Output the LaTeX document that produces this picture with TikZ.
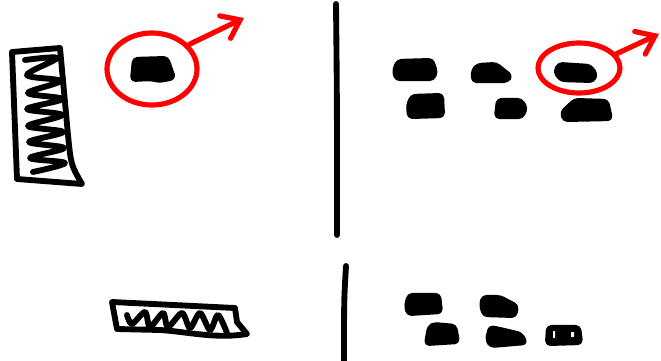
\documentclass[tikz,border=0pt]{standalone}
\usepackage{tikz}
\usetikzlibrary{arrows.meta}
\definecolor{Ink}{HTML}{000000}
\definecolor{Marker}{HTML}{FF0000}
\tikzset{
  pen/.style={draw=Ink,line width=5pt,line cap=round,line join=round},
  redpen/.style={draw=Marker,line width=4.4pt,line cap=round,line join=round},
  blob/.style={draw=Ink,fill=Ink,line width=3.5pt,rounded corners=3pt,line join=round},
  hole/.style={fill=white,rounded corners=.5pt},
  pointer/.style={redpen,-{Straight Barb[length=5mm,width=7.5mm,line cap=round]}}
}

\begin{document}
\begin{tikzpicture}[x=0.03cm,y=-0.03cm]
      \useasboundingbox[fill=white] (0,0) rectangle (661,361);
      % upper half: one tall stack, picked out
      \draw[pen] (12,52) -- (60,48) -- (68,135) .. controls (71,165) .. (82,184) -- (17,179) -- cycle;
      \draw[pen] plot[smooth,tension=.55] coordinates {(25,60) (57,58) (27,75) (60,81) (28,93) (62,99) (27,109) (62,115) (28,126) (63,132) (29,142) (64,148) (30,158) (65,163) (33,172)};
      \filldraw[blob] (134,59) -- (167,58) -- (174,78) -- (160,81) -- (150,79) -- (132,80) -- cycle;
      \draw[redpen] (152,69) ellipse [x radius=45,y radius=36];
      \coordinate (tipA) at (244,18);
      \draw[pointer] (190,44) -- (tipA);
      \draw[pen] (336,4) .. controls (337,100) .. (337,235);
      % upper half: loose pieces, one picked out
      \filldraw[blob] (398,61) -- (432,60) -- (436,72) -- (433,79) -- (396,79) -- (394,70) -- cycle;
      \filldraw[blob] (478,65) -- (496,64) -- (511,76) -- (507,81) -- (473,81) -- (473,70) -- cycle;
      \filldraw[blob] (559,64) -- (590,66) -- (596,74) -- (593,81) -- (561,80) -- (555,72) -- cycle;
      \filldraw[blob] (412,96) -- (442,95) -- (443,116) -- (409,117) -- (408,105) -- cycle;
      \filldraw[blob] (498,100) -- (521,100) -- (526,108) -- (522,117) -- (496,117) -- cycle;
      \filldraw[blob] (575,100) -- (607,101) -- (611,119) -- (564,120) -- (562,112) -- cycle;
      \draw[redpen] (579,68) ellipse [x radius=41,y radius=25];
      \coordinate (tipB) at (659,34);
      \draw[pointer] (616,54) -- (tipB);
      % lower half
      \draw[pen] (112,302) -- (235,308) -- (237,322) -- (247,334) .. controls (215,339) and (190,332) .. (160,330) -- (117,329) -- cycle;
      \draw[pen] plot[smooth,tension=.5] coordinates {(127,315) (132,324) (145,312) (150,327) (163,313) (168,327) (182,313) (190,328) (200,313) (210,330) (218,315) (227,333)};
      \draw[pen] (346,266) .. controls (344,300) .. (344,361);
      \filldraw[blob] (409,295) -- (439,295) -- (441,312) -- (408,314) -- (406,305) -- cycle;
      \filldraw[blob] (483,297) -- (500,297) -- (517,306) -- (515,316) -- (484,315) -- (481,305) -- cycle;
      \filldraw[blob] (429,327) -- (434,324) -- (455,326) -- (458,342) -- (426,344) -- cycle;
      \filldraw[blob] (490,327) -- (500,329) -- (521,334) -- (526,343) -- (491,346) -- (487,340) -- cycle;
      \filldraw[blob] (548,327) -- (579,327) -- (581,343) -- (547,344) -- cycle;
      \fill[hole] (553,331) rectangle (555,338);
      \fill[hole] (571,332) rectangle (574,337);
    \end{tikzpicture}
\end{document}
